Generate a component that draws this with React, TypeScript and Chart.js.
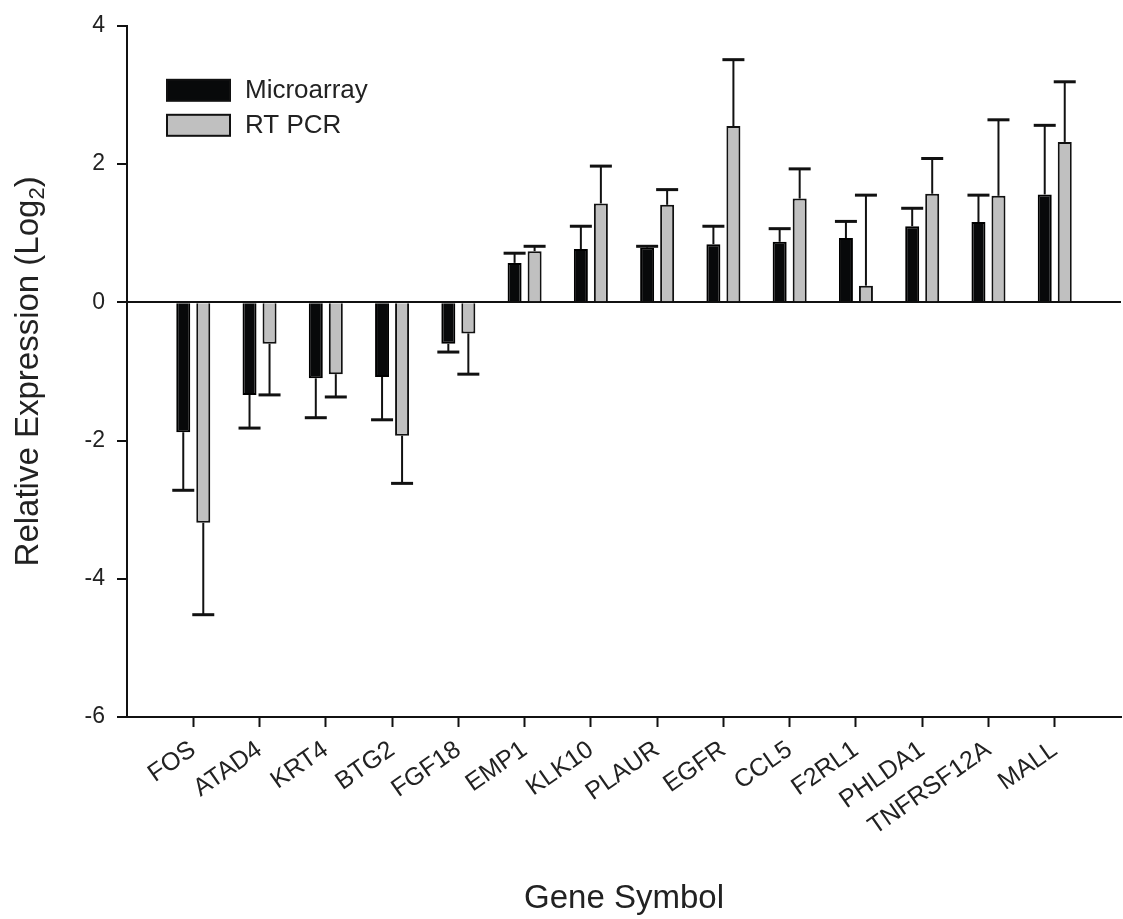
import { useEffect, useRef } from "react";
import { Chart, registerables } from "chart.js";

Chart.register(...registerables);

const genes = ["FOS", "ATAD4", "KRT4", "BTG2", "FGF18", "EMP1", "KLK10", "PLAUR", "EGFR", "CCL5", "F2RL1", "PHLDA1", "TNFRSF12A", "MALL"];
const microarray = [-1.88, -1.34, -1.1, -1.08, -0.6, 0.57, 0.77, 0.79, 0.84, 0.875, 0.93, 1.1, 1.16, 1.56];
const microarrayErr = [0.84, 0.48, 0.57, 0.62, 0.12, 0.14, 0.33, 0.02, 0.26, 0.19, 0.24, 0.26, 0.39, 1.0];
const rtPcr = [-3.19, -0.6, -1.04, -1.93, -0.45, 0.74, 1.43, 1.41, 2.55, 1.5, 0.24, 1.57, 1.54, 2.32];
const rtPcrErr = [1.33, 0.74, 0.33, 0.69, 0.59, 0.07, 0.54, 0.22, 0.96, 0.43, 1.31, 0.51, 1.1, 0.87];
const seriesNames = ["Microarray", "RT PCR"];
const yMin = -6;
const yMax = 4;
const yStep = 2;
const xTitle = "Gene Symbol";
const yTitle = "Relative Expression (Log";
const yTitleSub = "2";

const FONT = '"Liberation Sans", Arial, Helvetica, sans-serif';
const MICRO_FILL = "#08090a";
const RT_FILL = "#c0c0c0";

const errorBarsPlugin = {
  id: "errorBars",
  afterDatasetsDraw(chart: any) {
    const ctx = chart.ctx;
    const yScale = chart.scales.y;
    chart.data.datasets.forEach((ds: any, di: number) => {
      const meta = chart.getDatasetMeta(di);
      meta.data.forEach((bar: any, i: number) => {
        const v = ds.data[i].y;
        const e = ds.errors[i];
        const end = v >= 0 ? v + e : v - e;
        const y0 = yScale.getPixelForValue(v);
        const y1 = yScale.getPixelForValue(end);
        ctx.save();
        ctx.strokeStyle = "#111";
        ctx.lineWidth = 2;
        ctx.beginPath();
        ctx.moveTo(bar.x, y0);
        ctx.lineTo(bar.x, y1);
        ctx.stroke();
        ctx.lineWidth = 3;
        ctx.beginPath();
        ctx.moveTo(bar.x - 11, y1);
        ctx.lineTo(bar.x + 11, y1);
        ctx.stroke();
        ctx.restore();
      });
    });
  },
};

const decorPlugin = {
  id: "decor",
  afterDraw(chart: any) {
    const ctx = chart.ctx;
    const area = chart.chartArea;
    ctx.save();
    // Legend
    const fills = [MICRO_FILL, RT_FILL];
    const lx = area.left + 40;
    const ly = area.top + 54;
    seriesNames.forEach((name, i) => {
      const top = ly + i * 35;
      ctx.fillStyle = fills[i];
      ctx.fillRect(lx, top, 63, 21);
      ctx.strokeStyle = "#111";
      ctx.lineWidth = 2;
      ctx.strokeRect(lx, top, 63, 21);
      ctx.fillStyle = "#222";
      ctx.font = `26px ${FONT}`;
      ctx.textAlign = "left";
      ctx.textBaseline = "middle";
      ctx.fillText(name, lx + 78, top + 11);
    });
    // X title
    ctx.fillStyle = "#222";
    ctx.font = `33px ${FONT}`;
    ctx.textAlign = "center";
    ctx.textBaseline = "alphabetic";
    ctx.fillText(xTitle, (area.left + area.right) / 2, chart.height - 11);
    // Y title with subscript
    ctx.save();
    ctx.translate(38, (area.top + area.bottom) / 2);
    ctx.rotate(-Math.PI / 2);
    ctx.font = `33px ${FONT}`;
    const mainW = ctx.measureText(yTitle).width;
    ctx.font = `22px ${FONT}`;
    const subW = ctx.measureText(yTitleSub).width;
    ctx.font = `33px ${FONT}`;
    const closeW = ctx.measureText(")").width;
    const total = mainW + subW + closeW;
    let x = -total / 2;
    ctx.textAlign = "left";
    ctx.fillText(yTitle, x, 0);
    x += mainW;
    ctx.font = `22px ${FONT}`;
    ctx.fillText(yTitleSub, x, 6);
    x += subW;
    ctx.font = `33px ${FONT}`;
    ctx.fillText(")", x, 0);
    ctx.restore();
    ctx.restore();
  },
};

export default function App() {
  const canvasRef = useRef<HTMLCanvasElement | null>(null);

  useEffect(() => {
    if (!canvasRef.current) return;
    const chart = new Chart(canvasRef.current, {
      type: "bar",
      data: {
        datasets: [
          {
            label: seriesNames[0],
            data: microarray.map((v, i) => ({ x: i, y: v })),
            errors: microarrayErr,
            backgroundColor: MICRO_FILL,
            borderColor: "#000",
            borderWidth: 2,
          } as any,
          {
            label: seriesNames[1],
            data: rtPcr.map((v, i) => ({ x: i, y: v })),
            errors: rtPcrErr,
            backgroundColor: RT_FILL,
            borderColor: "#111",
            borderWidth: 2,
          } as any,
        ],
      },
      options: {
        responsive: false,
        animation: false,
        categoryPercentage: 0.604,
        barPercentage: 0.7,
        layout: { padding: { top: 20, right: 2, left: 0, bottom: 0 } },
        plugins: {
          legend: { display: false },
          tooltip: { enabled: false },
        },
        scales: {
          x: {
            type: "linear",
            min: -1,
            max: 14,
            offset: false,
            afterBuildTicks: (axis: any) => {
              axis.ticks = genes.map((_, i) => ({ value: i }));
            },
            afterFit: (axis: any) => {
              axis.height = 202;
            },
            ticks: {
              autoSkip: false,
              minRotation: 35,
              maxRotation: 35,
              padding: 8,
              color: "#222",
              font: { family: FONT, size: 25 },
              callback: (value: any) => genes[value as number] ?? "",
            },
            grid: {
              offset: false,
              drawOnChartArea: false,
              drawTicks: true,
              tickLength: 10,
              tickColor: "#111",
              tickWidth: 2,
            },
            border: { display: true, color: "#111", width: 2 },
          },
          y: {
            min: yMin,
            max: yMax,
            afterFit: (axis: any) => {
              axis.width = 127;
            },
            ticks: {
              stepSize: yStep,
              padding: 12,
              color: "#222",
              font: { family: FONT, size: 23 },
            },
            grid: {
              drawOnChartArea: true,
              color: (c: any) => (c.tick && c.tick.value === 0 ? "#111" : "rgba(0,0,0,0)"),
              lineWidth: 2,
              drawTicks: true,
              tickLength: 10,
              tickColor: "#111",
              tickWidth: 2,
            },
            border: { display: true, color: "#111", width: 2 },
          },
        },
      } as any,
      plugins: [errorBarsPlugin, decorPlugin],
    });
    return () => chart.destroy();
  }, []);

  return (
    <div style={{ position: "fixed", left: 0, top: 0, width: 1123, height: 919, background: "#fff" }}>
      <canvas ref={canvasRef} width={1123} height={919} style={{ display: "block" }} />
    </div>
  );
}
